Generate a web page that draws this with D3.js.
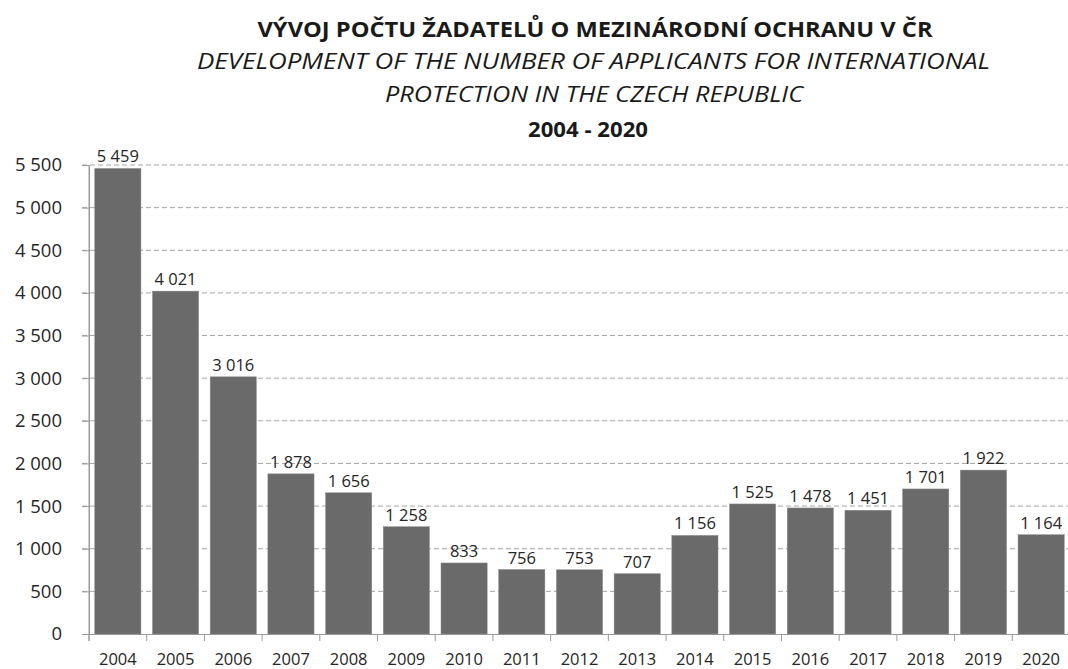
<!DOCTYPE html>
<html>
<head>
<meta charset="utf-8">
<script src="https://cdn.jsdelivr.net/npm/d3@7"></script>
<style>
  html, body { margin: 0; padding: 0; background: #fff; }
  svg { display: block; }
</style>
</head>
<body>
<svg id="chart" width="1068" height="669"></svg>
<script>
const years = ["2004","2005","2006","2007","2008","2009","2010","2011","2012","2013","2014","2015","2016","2017","2018","2019","2020"];
const applicants = [5459,4021,3016,1878,1656,1258,833,756,753,707,1156,1525,1478,1451,1701,1922,1164];
const yTicks = [0,500,1000,1500,2000,2500,3000,3500,4000,4500,5000,5500];
const titleLines = [
  {text: "VÝVOJ POČTU ŽADATELŮ O MEZINÁRODNÍ OCHRANU V ČR", bold: true, italic: false},
  {text: "DEVELOPMENT OF THE NUMBER OF APPLICANTS FOR INTERNATIONAL", bold: false, italic: true},
  {text: "PROTECTION IN THE CZECH REPUBLIC", bold: false, italic: true},
  {text: "2004 - 2020", bold: true, italic: false}
];

const svg = d3.select("#chart");
const font = "'Open Sans', 'Noto Sans', sans-serif";
const loc = d3.formatLocale({decimal: ",", thousands: " ", grouping: [3], currency: ["", ""]});
const fmt = loc.format(",d");

const x = d3.scaleBand().domain(years).range([89, 1070]).paddingInner(0.2).paddingOuter(0.1);
const y = d3.scaleLinear().domain([0, 5500]).range([634, 165]);

// Titles
const titleY = [37, 69, 102, 137];
const titleX = [595, 593.5, 594, 588];
const titleW = [675, 793, 418, 120];
const titleSize = [22, 22, 22, 21.5];
titleLines.forEach((t, i) => {
  svg.append("text")
    .attr("x", titleX[i]).attr("y", titleY[i])
    .attr("text-anchor", "middle")
    .attr("font-family", font)
    .attr("font-size", titleSize[i])
    .attr("font-weight", t.bold ? "bold" : "normal")
    .attr("font-style", t.italic ? "italic" : "normal")
    .attr("fill", "#1a1a1a")
    .attr("textLength", titleW[i])
    .attr("lengthAdjust", "spacingAndGlyphs")
    .text(t.text);
});

// Gridlines
svg.append("g").selectAll("line").data(yTicks.filter(d => d > 0)).join("line")
  .attr("x1", 82).attr("x2", 1068)
  .attr("y1", d => y(d)).attr("y2", d => y(d))
  .attr("stroke", "#a6a6a6").attr("stroke-width", 1)
  .attr("stroke-dasharray", "5,3");

// Y axis
const yAxis = svg.append("g").attr("transform", "translate(89,0)")
  .call(d3.axisLeft(y).tickValues(yTicks).tickFormat(fmt).tickSize(7).tickPadding(20));
yAxis.select(".domain").attr("stroke", "#9a9a9a");
yAxis.selectAll(".tick line").attr("stroke", "#9a9a9a");
yAxis.selectAll("text").attr("font-family", font).attr("font-size", 18.5).attr("fill", "#262626");

// X axis
const xAxis = svg.append("g").attr("transform", "translate(0,634)")
  .call(d3.axisBottom(x).tickSize(0).tickPadding(0));
xAxis.select(".domain").attr("stroke", "#9a9a9a");
xAxis.selectAll("text")
  .attr("y", 31).attr("dy", null)
  .attr("font-family", font).attr("font-size", 16.5).attr("fill", "#262626");
// band boundary ticks
const step = x.step();
svg.append("g").selectAll("line").data(d3.range(years.length + 1)).join("line")
  .attr("x1", i => 89 + i * step).attr("x2", i => 89 + i * step)
  .attr("y1", 634).attr("y2", 641)
  .attr("stroke", "#9a9a9a");

// Bars
svg.append("g").selectAll("rect").data(years).join("rect")
  .attr("x", d => x(d))
  .attr("width", x.bandwidth())
  .attr("y", (d, i) => y(applicants[i]))
  .attr("height", (d, i) => y(0) - y(applicants[i]))
  .attr("fill", "#6a6a6a")
  .attr("stroke", "#8a8a8a").attr("stroke-width", 0.5);

// Value labels
svg.append("g").selectAll("text").data(years).join("text")
  .attr("x", d => x(d) + x.bandwidth() / 2)
  .attr("y", (d, i) => y(applicants[i]) - 6)
  .attr("text-anchor", "middle")
  .attr("font-family", font).attr("font-size", 16.5).attr("fill", "#262626")
  .text((d, i) => fmt(applicants[i]));

// redraw axis line on top
svg.append("line").attr("x1", 89).attr("x2", 89).attr("y1", 165).attr("y2", 641).attr("stroke", "#9a9a9a");
</script>
</body>
</html>
